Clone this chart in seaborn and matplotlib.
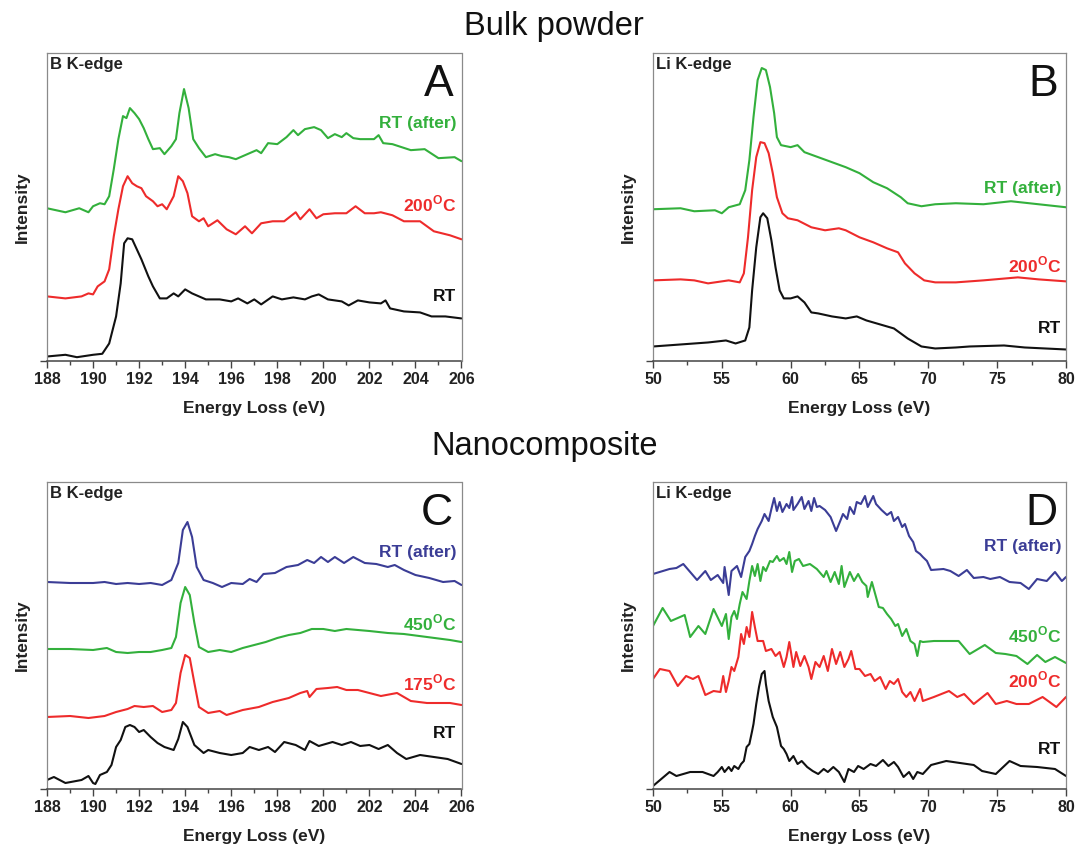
import seaborn as sns
import matplotlib.pyplot as plt
from matplotlib.ticker import MultipleLocator

# energy loss (eV), intensity (arbitrary, stacked)
# A: bulk powder, B K-edge
a_rt = [(188.0, 4), (188.8, 5.7), (189.3, 3.3), (190.0, 5.7), (190.4, 6.7), (190.7, 17), (191.0, 44),
        (191.2, 77), (191.35, 117), (191.5, 122), (191.7, 121), (191.9, 111), (192.1, 101), (192.4, 84),
        (192.6, 74), (192.9, 62), (193.2, 62), (193.5, 67), (193.7, 64), (194.0, 71), (194.3, 67),
        (194.6, 64), (194.9, 61), (195.5, 61), (196.0, 59), (196.3, 62), (196.7, 57), (197.0, 61),
        (197.3, 56), (197.8, 64), (198.2, 61), (198.7, 63), (199.2, 61), (199.5, 64), (199.8, 66),
        (200.2, 61), (200.8, 59), (201.1, 55), (201.5, 60), (202.0, 58), (202.5, 57), (202.7, 60),
        (202.9, 52), (203.5, 49), (204.2, 48), (204.7, 44), (205.3, 44), (206.0, 42)]
a_200 = [(188.0, 64), (188.8, 62), (189.5, 64), (189.8, 67), (190.0, 66), (190.2, 74), (190.5, 79),
         (190.7, 91), (190.9, 124), (191.1, 151), (191.3, 174), (191.5, 184), (191.7, 177), (191.9, 174),
         (192.1, 172), (192.3, 164), (192.6, 159), (192.8, 154), (193.0, 156), (193.2, 151), (193.5, 164),
         (193.7, 184), (193.9, 179), (194.1, 167), (194.3, 144), (194.6, 139), (194.8, 142), (195.0, 134),
         (195.4, 140), (195.8, 131), (196.2, 126), (196.6, 134), (196.9, 127), (197.3, 137), (197.8, 139),
         (198.3, 139), (198.8, 148), (199.0, 141), (199.4, 151), (199.7, 142), (200.0, 146), (200.5, 147),
         (201.0, 147), (201.4, 154), (201.8, 147), (202.2, 147), (202.5, 148), (203.0, 145), (203.5, 139),
         (204.2, 139), (204.8, 129), (205.5, 125), (206.0, 121)]
a_after = [(188.0, 152), (188.8, 148), (189.4, 152), (189.8, 148), (190.0, 154), (190.3, 157), (190.5, 156),
           (190.7, 164), (190.9, 191), (191.1, 221), (191.3, 244), (191.45, 242), (191.6, 252), (191.8, 247),
           (192.0, 241), (192.2, 232), (192.4, 221), (192.6, 211), (192.9, 212), (193.1, 206), (193.4, 214),
           (193.6, 221), (193.75, 247), (193.95, 271), (194.15, 252), (194.35, 221), (194.6, 212), (194.9, 203),
           (195.3, 206), (195.6, 204), (195.9, 203), (196.2, 201), (196.8, 207), (197.1, 210), (197.3, 207),
           (197.6, 217), (198.0, 216), (198.4, 223), (198.7, 230), (198.9, 225), (199.2, 231), (199.6, 233),
           (199.9, 230), (200.2, 222), (200.5, 226), (200.8, 223), (201.0, 227), (201.3, 222), (201.6, 221),
           (201.9, 221), (202.2, 221), (202.4, 225), (202.6, 217), (203.0, 216), (203.8, 210), (204.4, 211),
           (205.0, 202), (205.7, 203), (206.0, 199)]

# B: bulk powder, Li K-edge
b_rt = [(50, 14), (52, 16), (54, 18), (55.3, 20), (56.0, 17), (56.7, 20), (57.0, 33), (57.2, 70), (57.5, 113),
        (57.8, 143), (58.0, 147), (58.3, 142), (58.6, 120), (58.9, 93), (59.2, 70), (59.5, 62), (60.0, 62),
        (60.5, 64), (61.0, 58), (61.5, 48), (62.0, 47), (63.0, 44), (64.0, 42), (64.8, 44), (65.5, 40),
        (66.5, 36), (67.5, 32), (68.5, 22), (69.5, 14), (70.5, 12), (72, 13), (73, 14), (75.5, 15), (77, 13),
        (80, 11)]
b_200 = [(50, 80), (52, 81), (53, 80), (54, 77), (55.5, 80), (56.3, 78), (56.6, 87), (56.9, 123), (57.2, 170),
         (57.5, 203), (57.8, 218), (58.1, 217), (58.4, 207), (58.7, 187), (59.0, 163), (59.4, 147), (59.8, 142),
         (60.5, 140), (61.5, 133), (62.5, 130), (63.5, 132), (64, 130), (65, 123), (66, 118), (67, 112),
         (67.8, 108), (68.3, 97), (69, 87), (69.7, 80), (70.5, 78), (72, 78), (74, 80), (76.5, 83), (78, 81),
         (80, 79)]
b_after = [(50, 151), (52, 152), (53, 149), (54.5, 150), (55, 147), (55.5, 153), (56.3, 156), (56.7, 170),
           (57.0, 200), (57.3, 243), (57.6, 280), (57.9, 292), (58.2, 290), (58.5, 273), (58.8, 247), (59.0, 223),
           (59.3, 215), (60, 213), (60.5, 215), (61, 208), (62, 203), (63, 198), (64, 193), (65, 187), (66, 178),
           (67, 172), (68, 163), (68.5, 157), (69.5, 154), (70.5, 156), (72, 157), (74, 156), (76, 159),
           (78, 156), (80, 153)]

# C: nanocomposite, B K-edge
c_rt = [(188.0, 9), (188.3, 12), (188.8, 6), (189.5, 9), (189.8, 13), (190.0, 6), (190.1, 5), (190.3, 14),
        (190.6, 17), (190.8, 24), (191.0, 42), (191.2, 49), (191.4, 62), (191.6, 64), (191.8, 62), (192.0, 57),
        (192.2, 59), (192.5, 52), (192.8, 46), (193.1, 42), (193.5, 39), (193.7, 50), (193.9, 67), (194.1, 62),
        (194.4, 44), (194.8, 36), (195.0, 39), (195.5, 36), (196.0, 34), (196.5, 36), (196.8, 42), (197.2, 39),
        (197.6, 42), (197.9, 37), (198.3, 47), (198.8, 44), (199.2, 39), (199.4, 48), (199.8, 43), (200.4, 47),
        (200.8, 44), (201.2, 47), (201.6, 43), (202.0, 44), (202.4, 40), (202.8, 44), (203.2, 36), (203.6, 30),
        (204.2, 34), (204.8, 32), (205.4, 30), (206.0, 25)]
c_175 = [(188.0, 72), (189.0, 73), (189.8, 71), (190.5, 73), (191.0, 77), (191.5, 80), (191.8, 83), (192.2, 82),
         (192.6, 83), (193.0, 77), (193.4, 79), (193.6, 86), (193.8, 116), (194.0, 134), (194.2, 131),
         (194.4, 106), (194.6, 82), (195.0, 76), (195.5, 78), (195.8, 74), (196.5, 79), (197.2, 82), (197.8, 87),
         (198.5, 91), (199.0, 96), (199.3, 98), (199.4, 92), (199.7, 100), (200.2, 101), (200.6, 102),
         (201.0, 99), (201.5, 99), (202.0, 96), (202.5, 93), (203.2, 96), (203.8, 88), (204.5, 86), (205.5, 86),
         (206.0, 84)]
c_450 = [(188.0, 140), (189.0, 140), (190.0, 139), (190.6, 141), (191.0, 137), (191.5, 136), (192.0, 137),
         (192.5, 137), (193.0, 139), (193.4, 141), (193.6, 152), (193.8, 186), (194.0, 202), (194.2, 194),
         (194.4, 166), (194.6, 142), (195.0, 137), (195.5, 139), (196.0, 137), (196.5, 141), (197.0, 144),
         (197.5, 147), (198.0, 151), (198.5, 154), (199.0, 156), (199.5, 160), (200.0, 160), (200.5, 158),
         (201.0, 160), (201.5, 159), (202.0, 158), (202.8, 156), (203.5, 155), (204.5, 152), (205.5, 149),
         (206.0, 147)]
c_after = [(188.0, 207), (189.0, 206), (190.0, 206), (190.5, 207), (191.0, 205), (191.5, 206), (192.0, 205),
           (192.5, 206), (193.0, 204), (193.4, 209), (193.7, 226), (193.9, 259), (194.1, 267), (194.3, 252),
           (194.5, 222), (194.8, 209), (195.2, 206), (195.6, 202), (196.0, 206), (196.5, 205), (196.8, 210),
           (197.1, 207), (197.4, 215), (197.9, 216), (198.4, 222), (198.9, 224), (199.3, 229), (199.6, 226),
           (199.9, 232), (200.2, 227), (200.5, 232), (200.9, 226), (201.3, 232), (201.8, 226), (202.3, 225),
           (202.8, 222), (203.1, 224), (203.5, 219), (204.0, 214), (204.6, 211), (205.2, 207), (205.7, 208),
           (206.0, 204)]

# D: nanocomposite, Li K-edge
d_rt = [(50.0, 3), (50.6, 10), (51.2, 17), (51.7, 13), (52.7, 17), (53.6, 17), (54.4, 13), (54.7, 17),
        (55.0, 22), (55.2, 17), (55.5, 22), (55.7, 18), (55.9, 23), (56.2, 20), (56.4, 25), (56.6, 28),
        (56.8, 42), (57.0, 45), (57.2, 58), (57.3, 65), (57.5, 85), (57.7, 102), (57.9, 115), (58.1, 118),
        (58.2, 105), (58.4, 88), (58.7, 72), (59.0, 62), (59.3, 43), (59.5, 40), (59.7, 35), (59.9, 28),
        (60.2, 33), (60.5, 25), (60.8, 28), (61.2, 22), (61.6, 18), (62.0, 15), (62.4, 20), (62.7, 17),
        (63.1, 22), (63.5, 17), (63.7, 12), (63.9, 7), (64.2, 20), (64.6, 17), (64.9, 23), (65.3, 20),
        (65.8, 25), (66.2, 23), (66.7, 29), (67.1, 23), (67.5, 27), (67.8, 22), (68.2, 12), (68.6, 17),
        (68.9, 10), (69.2, 17), (69.6, 15), (70.2, 24), (71.3, 28), (72.3, 26), (73.3, 24), (73.9, 18),
        (74.9, 15), (75.9, 28), (76.7, 23), (77.9, 22), (79.2, 20), (80.0, 13)]
d_200 = [(50.0, 110), (50.5, 120), (51.2, 118), (51.8, 103), (52.4, 113), (52.9, 110), (53.3, 113), (53.8, 94),
         (54.4, 98), (54.9, 97), (55.1, 113), (55.3, 97), (55.5, 108), (55.7, 122), (55.9, 118), (56.2, 132),
         (56.4, 155), (56.6, 145), (56.8, 162), (57.0, 152), (57.2, 177), (57.4, 162), (57.6, 148), (58.0, 148),
         (58.2, 138), (58.6, 140), (58.9, 133), (59.2, 137), (59.5, 122), (59.7, 132), (59.9, 147), (60.2, 122),
         (60.4, 137), (60.7, 123), (61.0, 133), (61.3, 122), (61.5, 110), (61.8, 127), (62.1, 122), (62.4, 133),
         (62.7, 118), (63.0, 140), (63.3, 125), (63.6, 137), (63.9, 122), (64.2, 130), (64.4, 138), (64.7, 120),
         (65.0, 120), (65.4, 113), (65.8, 115), (66.1, 108), (66.5, 112), (66.9, 100), (67.2, 108), (67.5, 105),
         (67.8, 110), (68.1, 97), (68.4, 92), (68.7, 97), (69.0, 88), (69.4, 100), (69.6, 88), (70.4, 92),
         (71.5, 98), (72.1, 92), (72.6, 95), (73.3, 85), (74.3, 96), (74.9, 85), (75.7, 88), (76.4, 85),
         (77.3, 85), (78.3, 92), (79.3, 82), (80.0, 92)]
d_450 = [(50.0, 163), (50.7, 181), (51.3, 168), (52.3, 174), (52.7, 152), (53.3, 163), (53.8, 155), (54.4, 180),
         (55.0, 163), (55.1, 167), (55.3, 175), (55.5, 150), (55.7, 172), (55.9, 178), (56.1, 170), (56.3, 185),
         (56.5, 197), (56.8, 190), (57.0, 208), (57.2, 223), (57.4, 213), (57.6, 225), (57.8, 208), (58.0, 222),
         (58.2, 218), (58.5, 228), (58.7, 227), (59.0, 233), (59.2, 228), (59.5, 231), (59.7, 225), (59.9, 237),
         (60.1, 217), (60.3, 228), (60.6, 230), (60.9, 223), (61.4, 225), (61.9, 220), (62.4, 212), (62.6, 218),
         (62.9, 207), (63.2, 217), (63.5, 205), (63.7, 223), (63.9, 202), (64.3, 217), (64.6, 208), (64.9, 215),
         (65.2, 207), (65.5, 203), (65.6, 192), (65.9, 207), (66.1, 197), (66.4, 182), (66.7, 181), (67.0, 175),
         (67.3, 170), (67.6, 163), (67.8, 165), (68.1, 153), (68.4, 160), (68.7, 148), (69.0, 145), (69.2, 133),
         (69.4, 148), (69.6, 147), (70.4, 148), (71.2, 148), (72.2, 148), (73.0, 135), (74.1, 144), (74.9, 136),
         (75.6, 135), (76.4, 133), (77.2, 125), (77.9, 134), (78.5, 127), (79.2, 132), (80.0, 126)]
d_after = [(50.0, 215), (51.2, 220), (51.7, 221), (52.2, 225), (53.2, 209), (53.8, 218), (54.2, 209), (54.7, 214),
           (55.1, 206), (55.2, 222), (55.5, 194), (55.7, 218), (56.1, 223), (56.4, 212), (56.7, 232), (57.0, 238),
           (57.2, 245), (57.4, 253), (57.6, 260), (57.9, 268), (58.1, 275), (58.4, 268), (58.6, 280), (58.8, 291),
           (59.0, 278), (59.2, 287), (59.4, 277), (59.7, 285), (59.9, 281), (60.1, 292), (60.2, 279), (60.5, 285),
           (60.8, 292), (61.0, 280), (61.3, 288), (61.5, 278), (61.7, 291), (61.9, 282), (62.1, 283), (62.5, 279),
           (62.9, 272), (63.3, 258), (63.6, 268), (63.8, 275), (64.1, 270), (64.3, 282), (64.6, 275), (64.8, 287),
           (65.1, 285), (65.4, 293), (65.6, 282), (66.0, 293), (66.2, 285), (66.6, 279), (67.0, 274), (67.3, 277),
           (67.5, 268), (67.8, 272), (68.1, 262), (68.3, 265), (68.6, 253), (68.9, 247), (69.1, 238), (69.4, 235),
           (69.6, 232), (69.9, 228), (70.2, 219), (71.1, 220), (71.6, 218), (72.2, 213), (72.8, 219), (73.3, 211),
           (74.0, 212), (74.5, 210), (75.2, 212), (75.9, 207), (76.7, 206), (77.3, 200), (77.9, 210), (78.6, 208),
           (79.2, 217), (79.7, 208), (80.0, 212)]

BLACK = '#111111'
RED = '#ee2b2b'
GREEN = '#33b03c'
BLUE = '#3b3d96'

sns.set_style('ticks')
plt.rcParams['font.family'] = ['Liberation Sans', 'DejaVu Sans']
plt.rcParams['mathtext.fontset'] = 'custom'
plt.rcParams['mathtext.rm'] = 'Liberation Sans'
plt.rcParams['mathtext.bf'] = 'Liberation Sans:bold'

fig = plt.figure(figsize=(10.75, 8.44), dpi=100)
W, H = 1075, 844


def make_ax(x0, y_top, y_bot, x1):
    return fig.add_axes([x0 / W, 1 - y_bot / H, (x1 - x0) / W, (y_bot - y_top) / H])


ax_a = make_ax(47, 53, 360.5, 461.5)
ax_b = make_ax(653, 53, 360.5, 1066)
ax_c = make_ax(47, 482, 789, 461.5)
ax_d = make_ax(653, 482, 789, 1066)

deg = '$^{\\mathbf{O}}$C'
panels = [
    (ax_a, 'A', 'B K-edge', (188, 206), 2, 1,
     [(a_rt, BLACK, 'RT', 64), (a_200, RED, '200' + deg, 156), (a_after, GREEN, 'RT (after)', 237)]),
    (ax_b, 'B', 'Li K-edge', (50, 80), 5, 2.5,
     [(b_rt, BLACK, 'RT', 32), (b_200, RED, '200' + deg, 95), (b_after, GREEN, 'RT (after)', 172)]),
    (ax_c, 'C', 'B K-edge', (188, 206), 2, 1,
     [(c_rt, BLACK, 'RT', 56), (c_175, RED, '175' + deg, 106), (c_450, GREEN, '450' + deg, 166),
      (c_after, BLUE, 'RT (after)', 236)]),
    (ax_d, 'D', 'Li K-edge', (50, 80), 5, 2.5,
     [(d_rt, BLACK, 'RT', 40), (d_200, RED, '200' + deg, 109), (d_450, GREEN, '450' + deg, 154),
      (d_after, BLUE, 'RT (after)', 242)]),
]

for ax, letter, edge, xlim, major, minor, series in panels:
    for pts, color, label, label_y in series:
        xs = [p[0] for p in pts]
        ys = [p[1] for p in pts]
        sns.lineplot(x=xs, y=ys, ax=ax, color=color, linewidth=1.5, estimator=None, sort=False)
        ax.text(xlim[1] - (xlim[1] - xlim[0]) * 0.012, label_y, label, color=color, fontsize=12.5,
                fontweight='bold', ha='right', va='center')
    ax.set_xlim(*xlim)
    ax.set_ylim(0, 307)
    ax.xaxis.set_major_locator(MultipleLocator(major))
    ax.xaxis.set_minor_locator(MultipleLocator(minor))
    ax.set_yticks([0])
    ax.set_yticklabels([])
    ax.tick_params(axis='x', which='major', length=5, width=1, color='#444444', labelsize=11.5, pad=3)
    ax.tick_params(axis='x', which='minor', length=3, width=1, color='#444444')
    ax.tick_params(axis='y', length=5, width=1, color='#444444')
    for lab in ax.get_xticklabels():
        lab.set_fontweight('bold')
        lab.set_color('#222222')
    for side in ['top', 'right', 'left']:
        ax.spines[side].set_color('#8a8a8a')
        ax.spines[side].set_linewidth(0.9)
    ax.spines['bottom'].set_color('#444444')
    ax.spines['bottom'].set_linewidth(1.1)
    ax.set_xlabel('Energy Loss (eV)', fontsize=12.5, fontweight='bold', color='#222222', labelpad=10)
    ax.set_ylabel('Intensity', fontsize=12.5, fontweight='bold', color='#222222')
    ax.yaxis.set_label_coords(-0.042, 0.5)
    ax.text(0.008, 0.988, edge, transform=ax.transAxes, fontsize=12, fontweight='bold',
            color='#222222', ha='left', va='top')
    ax.text(0.98, 0.86, letter, transform=ax.transAxes, fontsize=32, color='#111111',
            ha='right', va='baseline')

fig.text(554 / W, 1 - 27 / H, 'Bulk powder', fontsize=23.5, ha='center', va='center', color='#111111')
fig.text(545 / W, 1 - 447 / H, 'Nanocomposite', fontsize=23.5, ha='center', va='center', color='#111111')

plt.savefig('out.png', dpi=100)
